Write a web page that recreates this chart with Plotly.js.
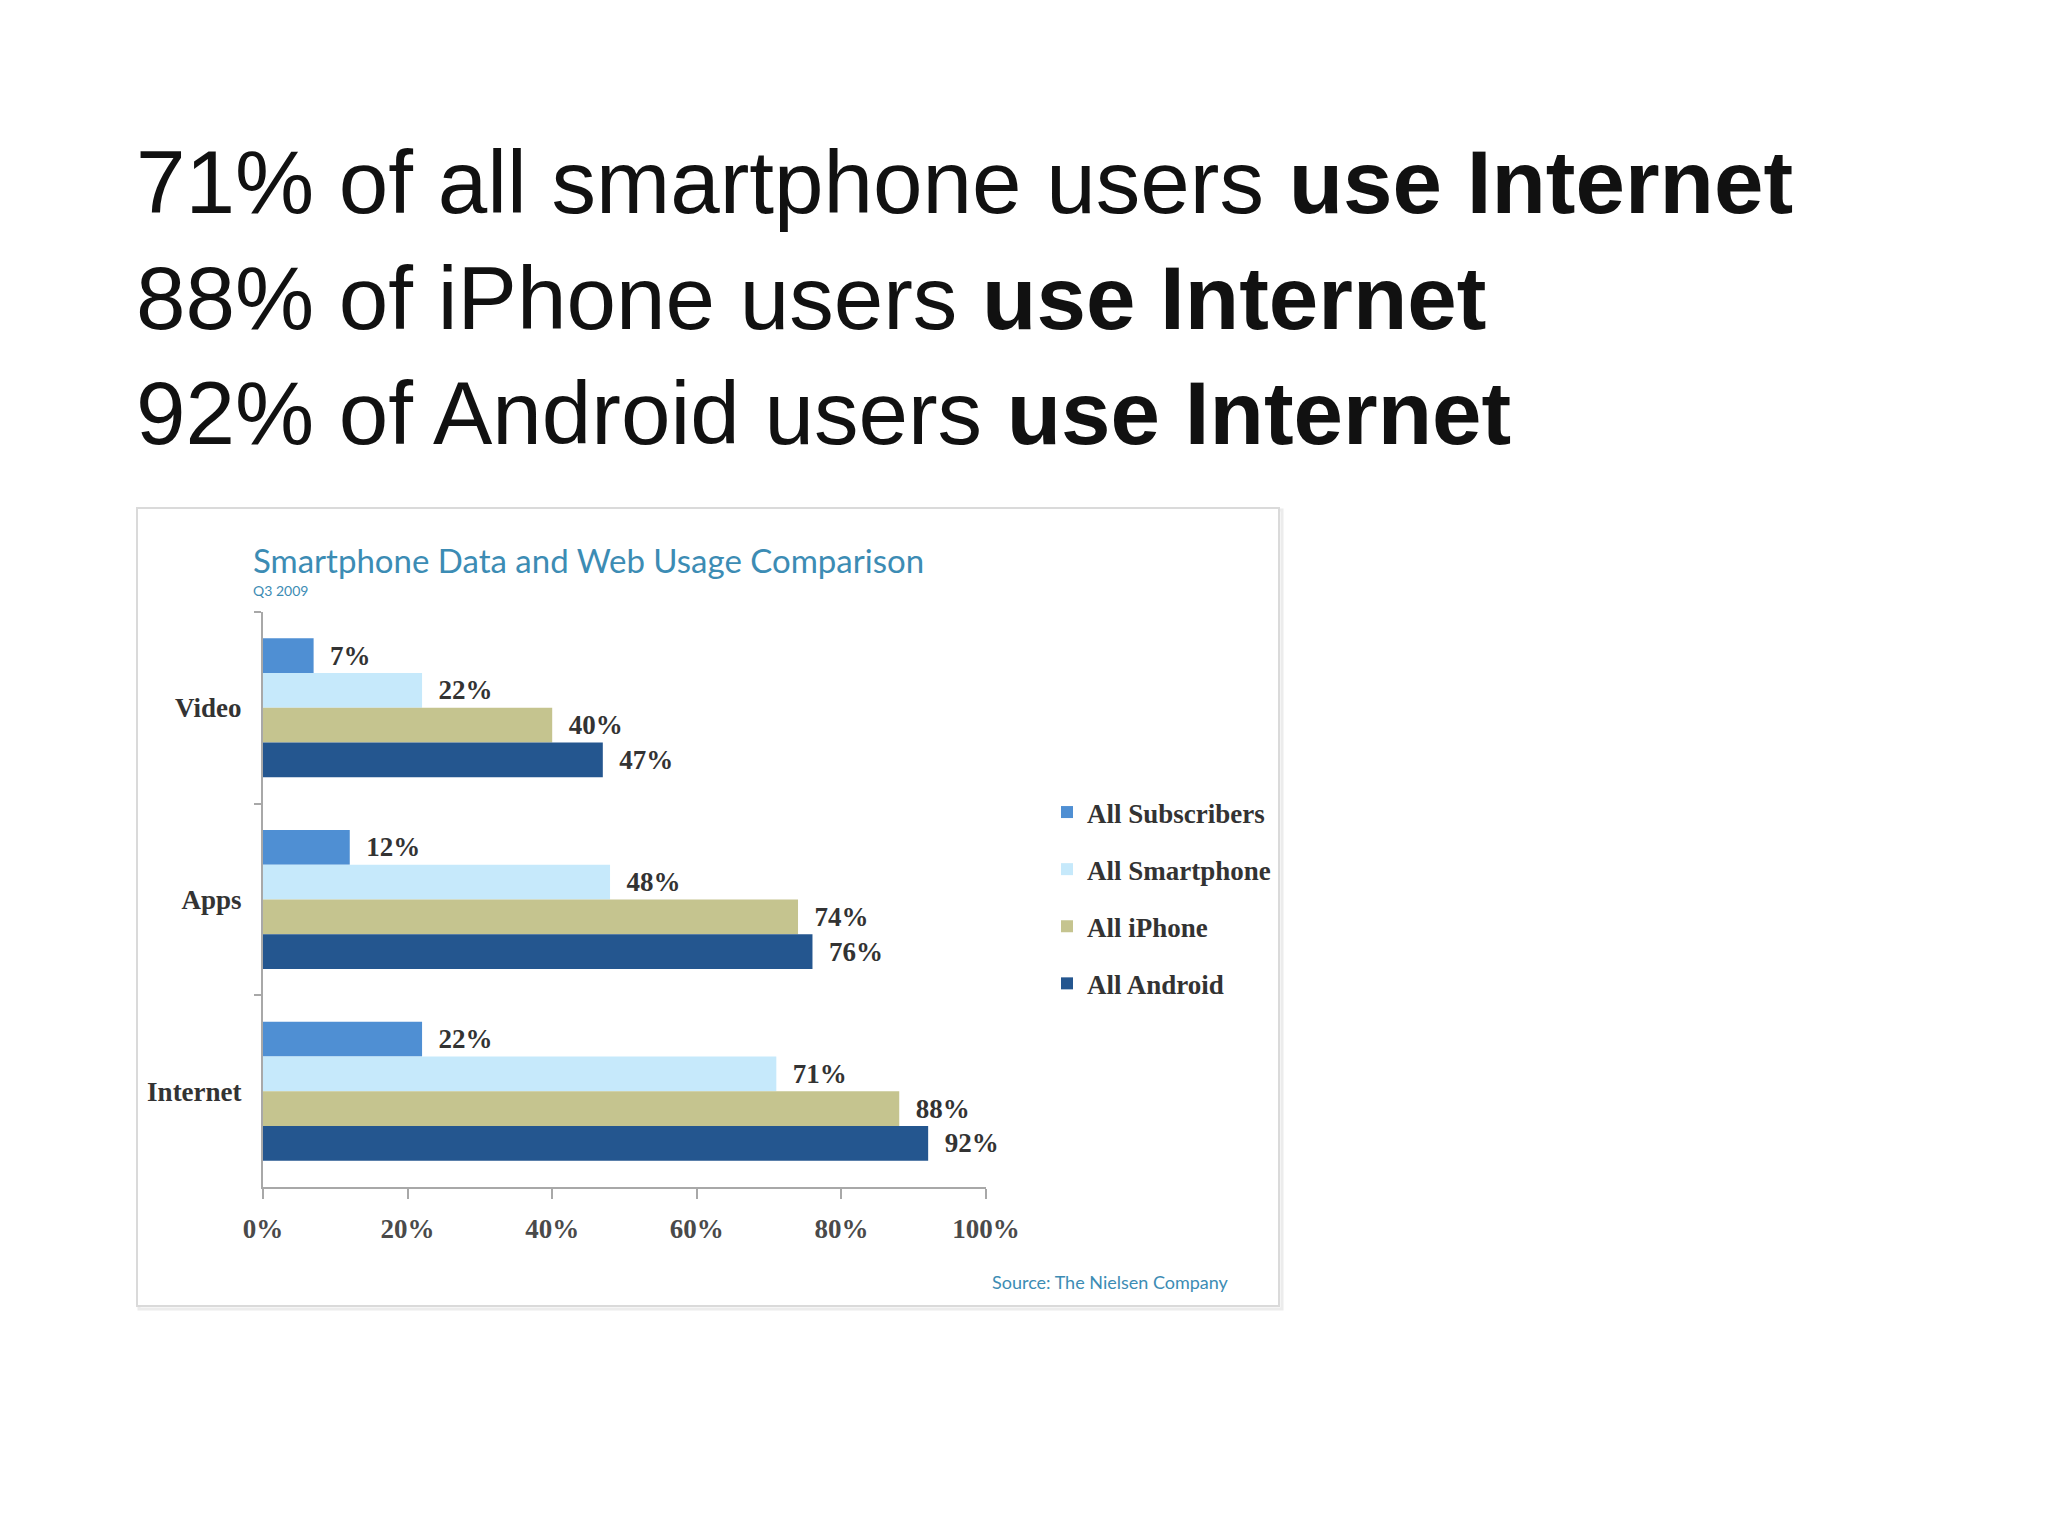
<!DOCTYPE html>
<html>
<head>
<meta charset="utf-8">
<script src="https://cdn.plot.ly/plotly-3.0.1.min.js"></script>
<style>
  html, body { margin: 0; padding: 0; background: #ffffff; }
  #chart { width: 2048px; height: 1536px; }
</style>
</head>
<body>
<div id="chart"></div>
<script>
// ---- data ----
const categories = ["Video", "Apps", "Internet"];
const seriesNames = ["All Subscribers", "All Smartphone", "All iPhone", "All Android"];
const allSubscribers = [7, 12, 22];
const allSmartphone = [22, 48, 71];
const allIPhone = [40, 74, 88];
const allAndroid = [47, 76, 92];
const xTickValues = [0, 20, 40, 60, 80, 100];
const xTickLabels = ["0%", "20%", "40%", "60%", "80%", "100%"];
const chartTitle = "Smartphone Data and Web Usage Comparison";
const chartSubtitle = "Q3 2009";
const sourceText = "Source: The Nielsen Company";

// ---- layout geometry (pixels) ----
const W = 2048, H = 1536;
const plotL = 263, plotR = 986, plotT = 612, plotB = 1187;
const px2x = p => (p - plotL) / (plotR - plotL);
const py2y = p => (plotB - p) / (plotB - plotT);

const colors = ["#4f8fd3", "#c6e9fb", "#c5c48f", "#24568f"];
const seriesValues = [allSubscribers, allSmartphone, allIPhone, allAndroid];
const serif = "Liberation Serif, Times New Roman, serif";
const teal = "#3c8cb4";

const traces = seriesValues.map((vals, i) => ({
  type: "bar",
  orientation: "h",
  name: seriesNames[i],
  legendgroup: "g" + i,
  x: vals,
  y: categories,
  marker: { color: colors[i], line: { width: 0 } },
  text: vals.map(v => "\u00A0\u00A0" + v + "%"),
  textposition: "outside",
  constraintext: "none",
  cliponaxis: false,
  textfont: { family: serif, size: 27, color: "#333333", weight: "bold" },
  hoverinfo: "skip"
}));

const headline =
  `${allSmartphone[2]}% of all smartphone users <b>use Internet</b><br>` +
  `${allIPhone[2]}% of iPhone users <b>use Internet</b><br>` +
  `${allAndroid[2]}% of Android users <b>use Internet</b>`;

const layout = {
  width: W, height: H,
  paper_bgcolor: "#ffffff",
  plot_bgcolor: "rgba(0,0,0,0)",
  margin: { l: plotL, r: W - plotR, t: plotT, b: H - plotB, pad: 0 },
  barmode: "group",
  bargap: 0.275,
  bargroupgap: 0,
  showlegend: true,
  legend: {
    x: px2x(1047), xanchor: "left",
    y: py2y(788), yanchor: "top",
    font: { family: serif, size: 27, color: "#333333", weight: "bold" },
    tracegroupgap: 19,
    traceorder: "grouped",
    bgcolor: "rgba(0,0,0,0)"
  },
  xaxis: {
    range: [0, 100],
    tickmode: "array",
    tickvals: xTickValues,
    ticktext: xTickLabels,
    showgrid: false,
    zeroline: false,
    showline: true,
    linecolor: "#a8a8a8",
    linewidth: 2,
    ticks: "outside",
    ticklen: 10,
    tickwidth: 2,
    tickcolor: "#a8a8a8",
    ticklabelstandoff: 7,
    tickfont: { family: serif, size: 27, color: "#4a4a4a", weight: "bold" },
    fixedrange: true
  },
  yaxis: {
    type: "category",
    categoryorder: "array",
    categoryarray: categories,
    range: [2.5, -0.5],
    showgrid: false,
    zeroline: false,
    showline: true,
    linecolor: "#a8a8a8",
    linewidth: 2,
    ticks: "outside",
    tickson: "boundaries",
    ticklen: 7,
    tickwidth: 2,
    tickcolor: "#a8a8a8",
    ticklabelstandoff: 14,
    tickfont: { family: serif, size: 27, color: "#333333", weight: "bold" },
    fixedrange: true
  },
  shapes: [
    {
      type: "rect", layer: "below",
      xref: "paper", yref: "paper",
      x0: px2x(139), x1: px2x(1282), y0: py2y(510), y1: py2y(1309),
      fillcolor: "#ffffff", line: { color: "#ececec", width: 3 }
    },
    {
      type: "rect", layer: "below",
      xref: "paper", yref: "paper",
      x0: px2x(137), x1: px2x(1279), y0: py2y(508), y1: py2y(1306),
      fillcolor: "#ffffff", line: { color: "#dadada", width: 2 }
    }
  ],
  annotations: [
    {
      text: headline,
      xref: "paper", yref: "paper",
      x: px2x(134), xanchor: "left",
      y: py2y(298), yanchor: "middle",
      align: "left",
      showarrow: false,
      font: { family: "Liberation Sans, Arial, Helvetica, sans-serif", size: 89, color: "#111111" }
    },
    {
      text: chartTitle,
      xref: "paper", yref: "paper",
      x: px2x(251), xanchor: "left",
      y: py2y(560), yanchor: "middle",
      showarrow: false,
      font: { family: "Lato, Open Sans, sans-serif", size: 33, color: teal }
    },
    {
      text: chartSubtitle,
      xref: "paper", yref: "paper",
      x: px2x(251), xanchor: "left",
      y: py2y(590), yanchor: "middle",
      showarrow: false,
      font: { family: "Lato, Open Sans, sans-serif", size: 14, color: teal }
    },
    {
      text: sourceText,
      xref: "paper", yref: "paper",
      x: px2x(1231), xanchor: "right",
      y: py2y(1282), yanchor: "middle",
      showarrow: false,
      font: { family: "Lato, Open Sans, sans-serif", size: 18, color: teal }
    }
  ]
};

Plotly.newPlot("chart", traces, layout, { displayModeBar: false, staticPlot: true });
</script>
</body>
</html>
